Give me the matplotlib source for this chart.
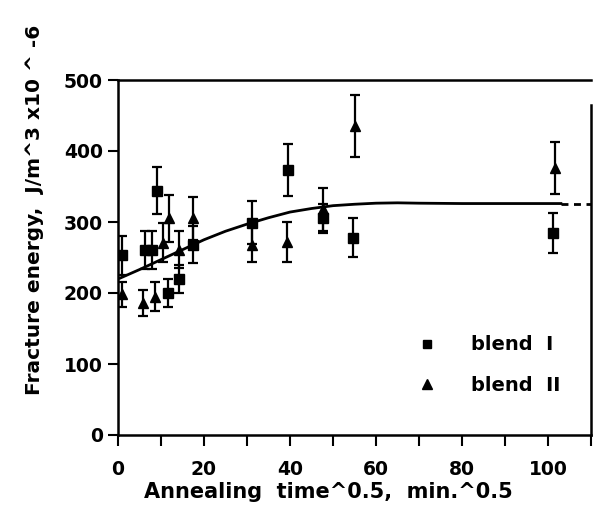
import matplotlib
matplotlib.use("Agg")
import matplotlib.pyplot as plt
from matplotlib.lines import Line2D

# ── data ─────────────────────────────────────────────────────────────────────
blend1_x = [1, 6.3, 7.8, 9.0, 11.7, 14.3, 17.4, 31.1, 39.6, 47.7, 54.7, 101.1]
blend1_y = [253, 261, 261, 344, 200, 220, 268, 299, 373, 305, 278, 284]
blend1_err = [27, 27, 27, 33, 20, 20, 26, 30, 37, 20, 27, 28]

blend2_x = [1, 5.9, 8.6, 10.5, 11.9, 14.3, 17.4, 31.1, 39.2, 47.7, 55.1, 101.6]
blend2_y = [198, 186, 195, 271, 305, 261, 305, 268, 272, 318, 435, 376]
blend2_err = [18, 18, 20, 28, 33, 26, 30, 25, 28, 30, 44, 37]

# fitted curve (read at intervals), then the dashed extension
fit_x = [0.5, 5, 10, 15, 20, 25, 30, 35, 40, 45, 50, 55, 60, 65, 70, 80, 90, 103]
fit_y = [221, 233, 247, 261, 275, 287, 297, 306, 314, 319, 323, 325, 326.5, 327,
         326.5, 326, 326, 326]
ext_x = [103, 110]
ext_y = [326, 326]

x_major = [0, 20, 40, 60, 80, 100]
x_minor = [10, 30, 50, 70, 90, 110]
y_ticks = [0, 100, 200, 300, 400, 500]

plt.rcParams["font.family"] = ["DejaVu Sans"]
plt.rcParams["font.weight"] = "bold"

fig = plt.figure(figsize=(5.97, 5.05), dpi=100)
ax = fig.add_axes([118 / 597, 1 - 435 / 505, (591 - 118) / 597, (435 - 80) / 505])

ax.plot(fit_x, fit_y, color="black", linewidth=2.0, zorder=2)
ax.plot(ext_x, ext_y, color="black", linewidth=2.0, linestyle=(0, (2.5, 2)), zorder=2)

eb_kw = dict(fmt="none", ecolor="black", elinewidth=1.6, capsize=3.5, capthick=1.6, zorder=3)
ax.errorbar(blend1_x, blend1_y, yerr=blend1_err, **eb_kw)
ax.errorbar(blend2_x, blend2_y, yerr=blend2_err, **eb_kw)
ax.plot(blend1_x, blend1_y, linestyle="none", marker="s", markersize=7,
        color="black", zorder=4)
ax.plot(blend2_x, blend2_y, linestyle="none", marker="^", markersize=7.5,
        color="black", zorder=4)

ax.set_xlim(0, 110)
ax.set_ylim(0, 500)
ax.set_xticks(x_major)
ax.set_xticks(x_minor, minor=True)
ax.set_yticks(y_ticks)
ax.tick_params(axis="x", which="both", direction="out", length=8, width=1.5,
               labelsize=13.5, pad=10)
ax.tick_params(axis="y", direction="out", length=7, width=1.5,
               labelsize=13.5, pad=4)

for side in ["left", "bottom", "top", "right"]:
    ax.spines[side].set_linewidth(1.8)
ax.spines["right"].set_bounds(0, 465)

handles = [
    Line2D([], [], linestyle="none", marker="s", markersize=6, color="black"),
    Line2D([], [], linestyle="none", marker="^", markersize=6.5, color="black"),
]
ax.legend(handles, ["blend  I", "blend  II"], loc="upper left",
          bbox_to_anchor=(0.595, 0.33), frameon=False, fontsize=14,
          handlelength=1.0, handletextpad=1.8, labelspacing=1.1)

fig.text(35 / 597, 1 - 210 / 505, "Fracture energy,  J/m^3 x10 ^ -6",
         rotation=90, ha="center", va="center", fontsize=14.5)
fig.text(328 / 597, 1 - 498 / 505, "Annealing  time^0.5,  min.^0.5",
         ha="center", va="baseline", fontsize=15)

fig.savefig("out.png", dpi=100)
